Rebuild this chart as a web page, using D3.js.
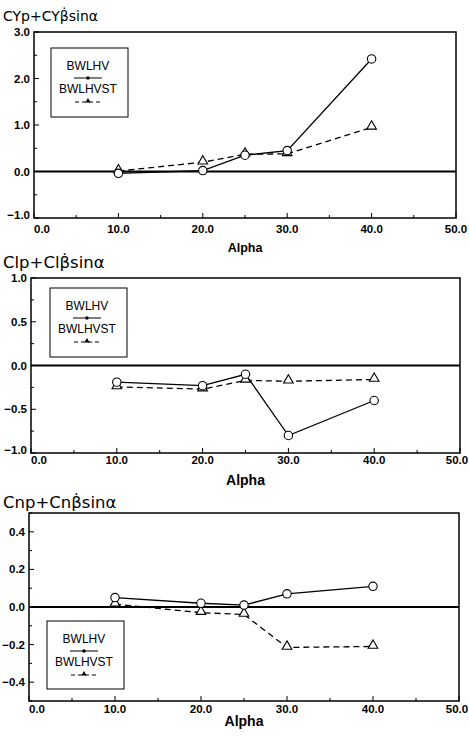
<!DOCTYPE html>
<html><head><meta charset="utf-8">
<script src="https://cdn.jsdelivr.net/npm/d3@7"></script>
<style>body{margin:0;background:#fff}svg{display:block}</style>
</head><body>
<script>
const alpha = [10, 20, 25, 30, 40];
const seriesNames = ["BWLHV", "BWLHVST"];
const cyBWLHV   = [-0.04, 0.02, 0.35, 0.45, 2.42];
const cyBWLHVST = [0.01, 0.20, 0.37, 0.38, 0.95];
const clBWLHV   = [-0.19, -0.23, -0.10, -0.80, -0.40];
const clBWLHVST = [-0.245, -0.27, -0.17, -0.18, -0.16];
const cnBWLHV   = [0.05, 0.02, 0.01, 0.07, 0.11];
const cnBWLHVST = [0.015, -0.03, -0.04, -0.215, -0.21];
const xTicks = [0, 10, 20, 30, 40, 50];
const titles = ["CYp+CYβ̇sinα", "Clp+Clβ̇sinα", "Cnp+Cnβ̇sinα"];
const yTicks1 = [-1, 0, 1, 2, 3];
const yTicks2 = [-1, -0.5, 0, 0.5, 1];
const yTicks3 = [-0.4, -0.2, 0, 0.2, 0.4];

const W = 469, H = 737;
const svg = d3.select("body").append("svg").attr("width", W).attr("height", H);
const font = "Liberation Sans, Arial, sans-serif";
const tfont = "DejaVu Sans, Liberation Sans, sans-serif";

const panels = [
  {title: titles[0], tSize: 14, s1: cyBWLHV, s2: cyBWLHVST, yDom: [-1, 3], yTicks: yTicks1, yMinor: 0.5,
   box: {l: 34, r: 456, t: 32, b: 218}, titleY: 21, legend: {x: 51, y: 48, w: 77, h: 69}, xlabY: 233, alphaY: 252, aSize: 12.5},
  {title: titles[1], tSize: 16.5, s1: clBWLHV, s2: clBWLHVST, yDom: [-1, 1], yTicks: yTicks2, yMinor: 0.25,
   box: {l: 31, r: 460, t: 278, b: 453}, titleY: 268, legend: {x: 50, y: 288, w: 77, h: 69}, xlabY: 464, alphaY: 485, aSize: 14},
  {title: titles[2], tSize: 16.5, s1: cnBWLHV, s2: cnBWLHVST, yDom: [-0.5, 0.5], yTicks: yTicks3, yMinor: 0.1,
   box: {l: 29, r: 459, t: 513, b: 701}, titleY: 508, legend: {x: 47, y: 621, w: 77, h: 68}, xlabY: 713, alphaY: 726, aSize: 14}
];

panels.forEach(p => {
  const g = svg.append("g");
  const x = d3.scaleLinear().domain([0, 50]).range([p.box.l, p.box.r]);
  const y = d3.scaleLinear().domain(p.yDom).range([p.box.b, p.box.t]);
  const fmt = d3.format(".1f");

  // title
  g.append("text").attr("x", 3).attr("y", p.titleY).attr("font-family", tfont)
    .attr("font-size", p.tSize).attr("fill", "#000").text(p.title);

  // frame
  g.append("rect").attr("x", p.box.l).attr("y", p.box.t)
    .attr("width", p.box.r - p.box.l).attr("height", p.box.b - p.box.t)
    .attr("fill", "none").attr("stroke", "#000").attr("stroke-width", 1.5);

  // x ticks (inward)
  d3.range(0, 50.01, 5).forEach(v => {
    const major = v % 10 === 0;
    g.append("line").attr("x1", x(v)).attr("x2", x(v))
      .attr("y1", p.box.b).attr("y2", p.box.b - (major ? 5 : 3))
      .attr("stroke", "#000").attr("stroke-width", 1);
  });
  // y ticks
  d3.range(p.yDom[0], p.yDom[1] + 1e-9, p.yMinor).forEach(v => {
    const major = p.yTicks.some(t => Math.abs(t - v) < 1e-6);
    g.append("line").attr("x1", p.box.l).attr("x2", p.box.l + (major ? 5 : 3))
      .attr("y1", y(v)).attr("y2", y(v)).attr("stroke", "#000").attr("stroke-width", 1);
  });

  // x tick labels (first one nudged right, last kept inside the page)
  g.selectAll(".xl").data(xTicks).join("text")
    .attr("x", d => Math.min(x(d) + (d === 0 ? 8 : 0), W - 12)).attr("y", p.xlabY).attr("text-anchor", "middle")
    .attr("font-family", font).attr("font-weight", "bold").attr("font-size", 11.5)
    .text(d => fmt(d));
  // y tick labels
  g.selectAll(".yl").data(p.yTicks).join("text")
    .attr("x", p.box.l - 4).attr("y", d => y(d) + (d === p.yDom[0] ? 1 : 4)).attr("text-anchor", "end")
    .attr("font-family", font).attr("font-weight", "bold").attr("font-size", 11.5)
    .text(d => fmt(d));

  // axis label
  g.append("text").attr("x", (p.box.l + p.box.r) / 2).attr("y", p.alphaY)
    .attr("text-anchor", "middle").attr("font-family", font).attr("font-weight", "bold")
    .attr("font-size", p.aSize).text("Alpha");

  // zero line
  g.append("line").attr("x1", p.box.l).attr("x2", p.box.r).attr("y1", y(0)).attr("y2", y(0))
    .attr("stroke", "#000").attr("stroke-width", 2);

  const line = d3.line().x((d, i) => x(alpha[i])).y(d => y(d));
  g.append("path").datum(p.s2).attr("d", line).attr("fill", "none")
    .attr("stroke", "#000").attr("stroke-width", 1.3).attr("stroke-dasharray", "6,4");
  g.append("path").datum(p.s1).attr("d", line).attr("fill", "none")
    .attr("stroke", "#000").attr("stroke-width", 1.3);

  const tri = d3.symbol().type(d3.symbolTriangle).size(40);
  g.selectAll(".tri").data(p.s2).join("path")
    .attr("transform", (d, i) => `translate(${x(alpha[i])},${y(d) - 1})`)
    .attr("d", tri).attr("fill", "#fff").attr("stroke", "#000").attr("stroke-width", 1.1);
  g.selectAll(".circ").data(p.s1).join("circle")
    .attr("cx", (d, i) => x(alpha[i])).attr("cy", d => y(d)).attr("r", 4.2)
    .attr("fill", "#fff").attr("stroke", "#000").attr("stroke-width", 1.1);

  // legend
  const L = p.legend;
  const lg = g.append("g");
  lg.append("rect").attr("x", L.x).attr("y", L.y).attr("width", L.w).attr("height", L.h)
    .attr("fill", "#fff").attr("stroke", "#000").attr("stroke-width", 1);
  const cx = L.x + L.w * 0.48;
  lg.append("text").attr("x", cx).attr("y", L.y + 22).attr("text-anchor", "middle")
    .attr("font-family", font).attr("font-size", 12).text(seriesNames[0]);
  lg.append("line").attr("x1", cx - 14).attr("x2", cx + 14).attr("y1", L.y + 30).attr("y2", L.y + 30)
    .attr("stroke", "#000").attr("stroke-width", 1);
  lg.append("circle").attr("cx", cx).attr("cy", L.y + 30).attr("r", 1.7).attr("fill", "#000");
  lg.append("text").attr("x", cx).attr("y", L.y + 45).attr("text-anchor", "middle")
    .attr("font-family", font).attr("font-size", 12).text(seriesNames[1]);
  lg.append("line").attr("x1", cx - 13).attr("x2", cx + 13).attr("y1", L.y + 54).attr("y2", L.y + 54)
    .attr("stroke", "#000").attr("stroke-width", 1).attr("stroke-dasharray", "4,3");
  lg.append("path").attr("transform", `translate(${cx},${L.y + 53})`)
    .attr("d", d3.symbol().type(d3.symbolTriangle).size(12)).attr("fill", "#000");
});
</script>
</body></html>
